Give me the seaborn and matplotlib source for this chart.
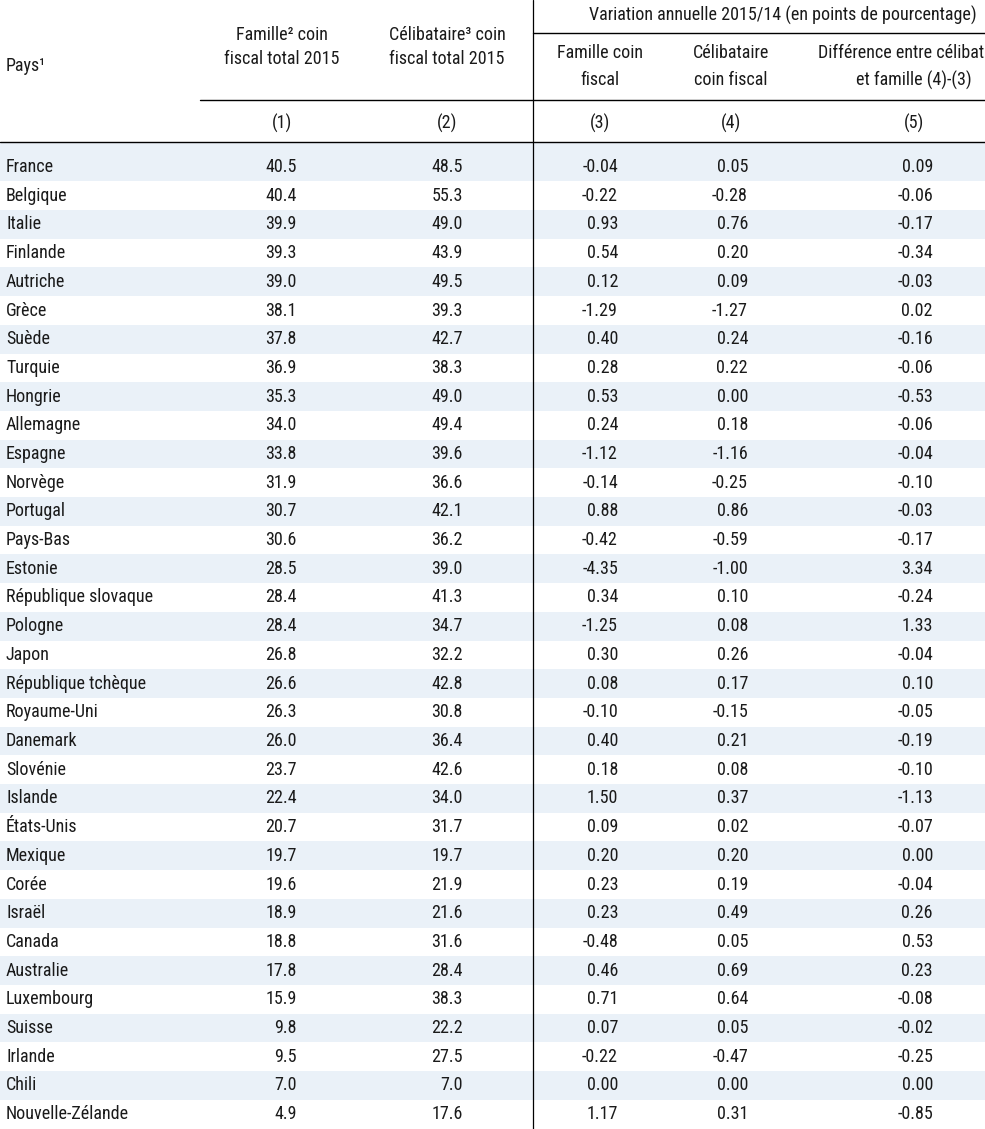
import matplotlib
matplotlib.use("Agg")
import matplotlib.pyplot as plt
from matplotlib import font_manager
import seaborn as sns
import pandas as pd

# -------------------------
# DATA
# -------------------------
countries = [
    "France", "Belgique", "Italie", "Finlande", "Autriche", "Grèce", "Suède",
    "Turquie", "Hongrie", "Allemagne", "Espagne", "Norvège", "Portugal",
    "Pays-Bas", "Estonie", "République slovaque", "Pologne", "Japon",
    "République tchèque", "Royaume-Uni", "Danemark", "Slovénie", "Islande",
    "États-Unis", "Mexique", "Corée", "Israël", "Canada", "Australie",
    "Luxembourg", "Suisse", "Irlande", "Chili", "Nouvelle-Zélande",
]
family_2015 = [40.5, 40.4, 39.9, 39.3, 39.0, 38.1, 37.8, 36.9, 35.3, 34.0, 33.8,
               31.9, 30.7, 30.6, 28.5, 28.4, 28.4, 26.8, 26.6, 26.3, 26.0, 23.7,
               22.4, 20.7, 19.7, 19.6, 18.9, 18.8, 17.8, 15.9, 9.8, 9.5, 7.0, 4.9]
single_2015 = [48.5, 55.3, 49.0, 43.9, 49.5, 39.3, 42.7, 38.3, 49.0, 49.4, 39.6,
               36.6, 42.1, 36.2, 39.0, 41.3, 34.7, 32.2, 42.8, 30.8, 36.4, 42.6,
               34.0, 31.7, 19.7, 21.9, 21.6, 31.6, 28.4, 38.3, 22.2, 27.5, 7.0, 17.6]
family_change = [-0.04, -0.22, 0.93, 0.54, 0.12, -1.29, 0.40, 0.28, 0.53, 0.24,
                 -1.12, -0.14, 0.88, -0.42, -4.35, 0.34, -1.25, 0.30, 0.08, -0.10,
                 0.40, 0.18, 1.50, 0.09, 0.20, 0.23, 0.23, -0.48, 0.46, 0.71, 0.07,
                 -0.22, 0.00, 1.17]
single_change = [0.05, -0.28, 0.76, 0.20, 0.09, -1.27, 0.24, 0.22, 0.00, 0.18,
                 -1.16, -0.25, 0.86, -0.59, -1.00, 0.10, 0.08, 0.26, 0.17, -0.15,
                 0.21, 0.08, 0.37, 0.02, 0.20, 0.19, 0.49, 0.05, 0.69, 0.64, 0.05,
                 -0.47, 0.00, 0.31]
diff_change = [0.09, -0.06, -0.17, -0.34, -0.03, 0.02, -0.16, -0.06, -0.53, -0.06,
               -0.04, -0.10, -0.03, -0.17, 3.34, -0.24, 1.33, -0.04, 0.10, -0.05,
               -0.19, -0.10, -1.13, -0.07, 0.00, -0.04, 0.26, 0.53, 0.23, -0.08,
               -0.02, -0.25, 0.00, -0.85]

col_numbers = ["(1)", "(2)", "(3)", "(4)", "(5)"]

df = pd.DataFrame({
    "Pays": countries,
    "c1": family_2015,
    "c2": single_2015,
    "c3": family_change,
    "c4": single_change,
    "c5": diff_change,
})

# -------------------------
# STYLE
# -------------------------
sns.set_theme(style="white")

# the original uses a narrow grotesque; take the narrowest family we can find
fonts = font_manager.fontManager.ttflist
names = {f.name for f in fonts}
narrow = None
for cand in ["Liberation Sans Narrow", "Arial Narrow", "Roboto Condensed",
             "Open Sans Condensed", "Noto Sans Display"]:
    if cand in names:
        narrow = cand
        break
stretch = "normal"
if narrow is None and any(f.name == "DejaVu Sans" and f.stretch == "condensed" for f in fonts):
    narrow, stretch = "DejaVu Sans", "condensed"

if narrow is not None:
    plt.rcParams["font.family"] = [narrow, "DejaVu Sans"]
    plt.rcParams["font.stretch"] = stretch
    FS = 13.0
    var_x = 783
else:
    plt.rcParams["font.family"] = ["Liberation Sans", "DejaVu Sans"]
    FS = 11.2
    var_x = 757

TXT = "#1a1a1a"
SHADE = "#eaf1f8"

fig = plt.figure(figsize=(9.85, 11.29), dpi=100)
ax = fig.add_axes([0, 0, 1, 1])
ax.set_xlim(0, 985)
ax.set_ylim(1129, 0)
ax.set_axis_off()

# layout (pixel units)
row0 = 167
pitch = 28.7
head_bottom = 142
col_right = {"c1": 297, "c2": 463, "c3": 618, "c4": 748, "c5": 933}
col_center = [282, 447, 600, 731, 914]
fmt = {"c1": "{:.1f}", "c2": "{:.1f}", "c3": "{:.2f}", "c4": "{:.2f}", "c5": "{:.2f}"}

# -------------------------
# ROW SHADING + BODY
# -------------------------
for i, row in df.iterrows():
    yc = row0 + i * pitch
    if i % 2 == 0:
        top = head_bottom if i == 0 else yc - pitch / 2
        ax.axhspan(top, yc + pitch / 2, color=SHADE, lw=0, zorder=0)
    ax.text(6, yc, row["Pays"], ha="left", va="center", fontsize=FS, color=TXT)
    for c in ["c1", "c2", "c3", "c4", "c5"]:
        ax.text(col_right[c], yc, fmt[c].format(row[c]), ha="right", va="center",
                fontsize=FS, color=TXT)

# -------------------------
# HEADER
# -------------------------
ax.text(6, 66, "Pays¹", ha="left", va="center", fontsize=FS, color=TXT)
ax.text(col_center[0], 35, "Famille² coin", ha="center", va="center", fontsize=FS, color=TXT)
ax.text(col_center[0], 59, "fiscal total 2015", ha="center", va="center", fontsize=FS, color=TXT)
ax.text(col_center[1], 35, "Célibataire³ coin", ha="center", va="center", fontsize=FS, color=TXT)
ax.text(col_center[1], 59, "fiscal total 2015", ha="center", va="center", fontsize=FS, color=TXT)
ax.text(var_x, 15, "Variation annuelle 2015/14 (en points de pourcentage)",
        ha="center", va="center", fontsize=FS, color=TXT)
ax.text(col_center[2], 53, "Famille coin", ha="center", va="center", fontsize=FS, color=TXT)
ax.text(col_center[2], 80, "fiscal", ha="center", va="center", fontsize=FS, color=TXT)
ax.text(col_center[3], 53, "Célibataire", ha="center", va="center", fontsize=FS, color=TXT)
ax.text(col_center[3], 80, "coin fiscal", ha="center", va="center", fontsize=FS, color=TXT)
# this one runs off the right edge in the original as well
ax.text(col_center[4], 53, "Différence entre célibataire", ha="center", va="center",
        fontsize=FS, color=TXT, clip_on=True)
ax.text(col_center[4], 80, "et famille (4)-(3)", ha="center", va="center", fontsize=FS, color=TXT)
for x, lab in zip(col_center, col_numbers):
    ax.text(x, 123, lab, ha="center", va="center", fontsize=FS, color=TXT)

# rules
ax.plot([533, 985], [33, 33], color="black", lw=1.0)
ax.plot([200, 985], [100, 100], color="black", lw=1.0)
ax.plot([0, 985], [head_bottom, head_bottom], color="black", lw=1.0)
ax.plot([533, 533], [0, 1129], color="black", lw=0.9)

fig.savefig("out.png", dpi=100)
plt.close(fig)
